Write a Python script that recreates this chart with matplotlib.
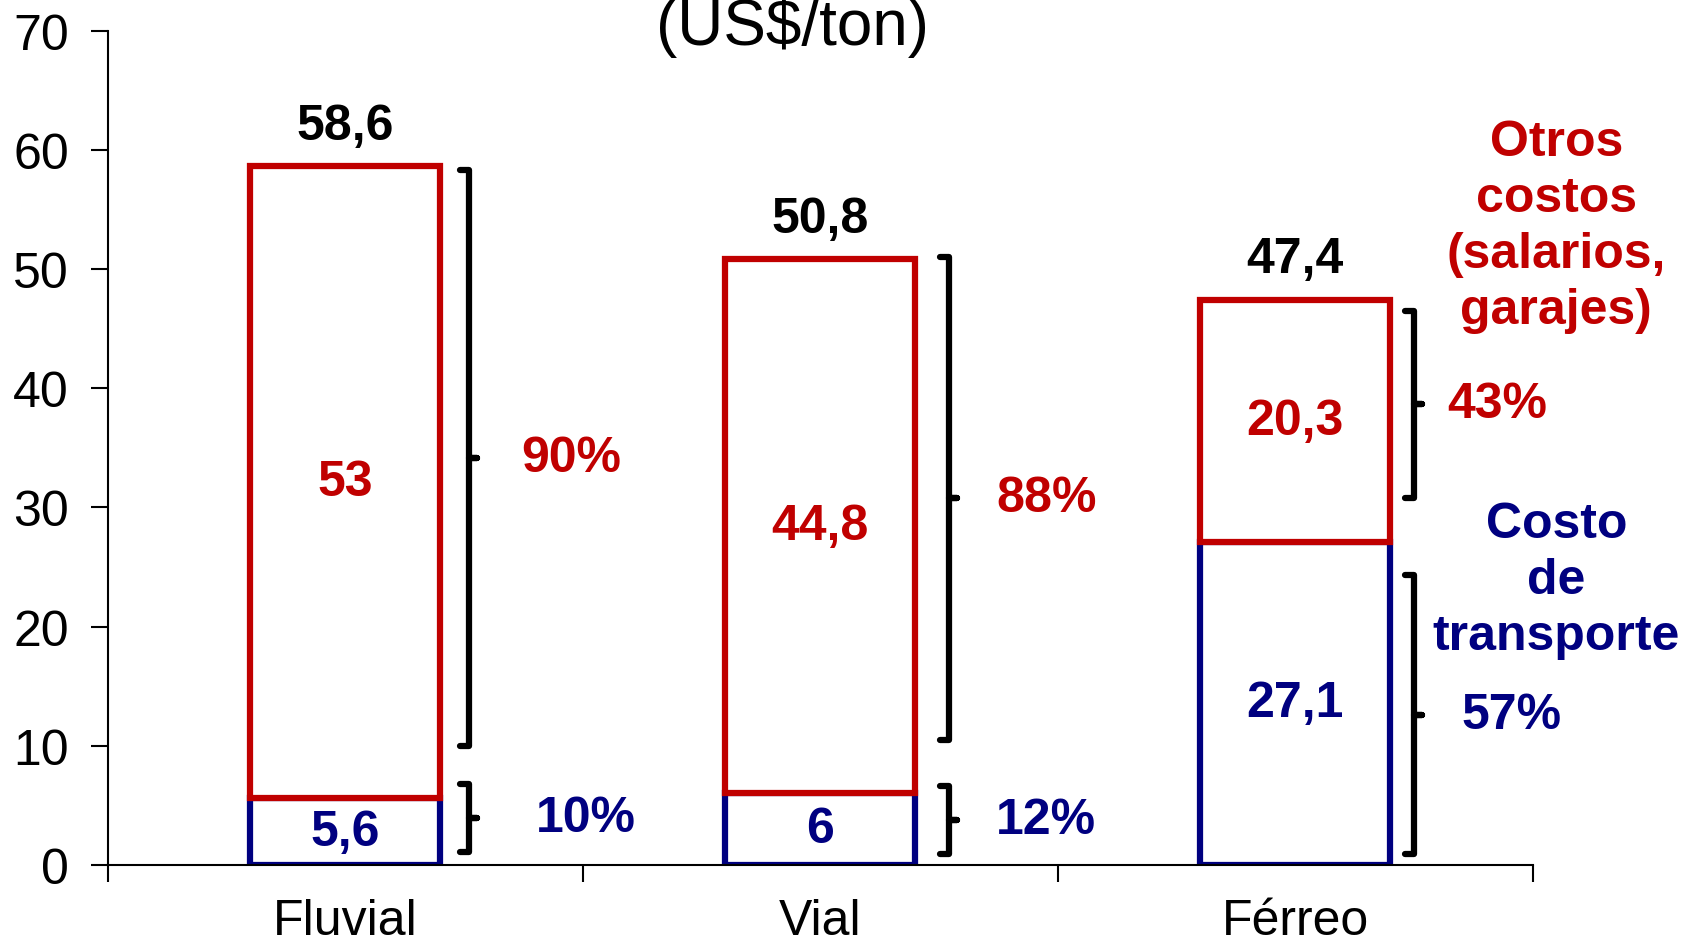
import matplotlib.pyplot as plt
import numpy as np

plt.rcParams['font.family'] = ['Liberation Sans', 'DejaVu Sans']

categories = ['Fluvial', 'Vial', 'Férreo']
transporte = [5.6, 6.0, 27.1]
otros = [53.0, 44.8, 20.3]
totales = [58.6, 50.8, 47.4]
transporte_lbl = ['5,6', '6', '27,1']
otros_lbl = ['53', '44,8', '20,3']
total_lbl = ['58,6', '50,8', '47,4']
pct_otros = ['90%', '88%', '43%']
pct_transporte = ['10%', '12%', '57%']
# brace extents (lower, upper)
brace_otros = [(10.0, 58.3), (10.5, 51.0), (30.8, 46.5)]
brace_transporte = [(1.1, 6.8), (0.9, 6.6), (0.9, 24.3)]

RED = '#C00000'
BLUE = '#000080'
FS = 36

fig = plt.figure(figsize=(16.98, 9.45), dpi=100)
ax = fig.add_axes([0.0636, 0.0836, 0.839, 0.883])

x = np.arange(len(categories))
w = 0.40
ax.bar(x, transporte, w, color='white', edgecolor=BLUE, linewidth=4.5)
ax.bar(x, otros, w, bottom=transporte, color='white', edgecolor=RED, linewidth=4.5)

for i in x:
    ax.text(i, transporte[i] / 2, transporte_lbl[i], ha='center', va='center',
            color=BLUE, fontsize=FS, fontweight='bold')
    ax.text(i, transporte[i] + otros[i] / 2, otros_lbl[i], ha='center', va='center',
            color=RED, fontsize=FS, fontweight='bold')
    ax.text(i, totales[i] + 1.5, total_lbl[i], ha='center', va='bottom',
            color='black', fontsize=FS, fontweight='bold')

# braces
def brace(xc, lo, hi):
    mid = (lo + hi) / 2
    h = 0.018
    xs = [xc - h, xc, xc, xc + h, xc, xc, xc - h]
    ys = [hi, hi, mid, mid, mid, lo, lo]
    ax.plot(xs, ys, color='black', lw=4.5, solid_joinstyle='round',
            solid_capstyle='round', clip_on=False)
    return mid

bx = [0.26, 0.27, 0.25]
gap_otros = [0.11, 0.10, 0.07]
gap_transp = [0.14, 0.10, 0.10]
for i in x:
    m = brace(i + bx[i], *brace_otros[i])
    ax.text(i + bx[i] + gap_otros[i], m, pct_otros[i], ha='left', va='center',
            color=RED, fontsize=FS, fontweight='bold')
    m = brace(i + bx[i], *brace_transporte[i])
    ax.text(i + bx[i] + gap_transp[i], m, pct_transporte[i], ha='left', va='center',
            color=BLUE, fontsize=FS, fontweight='bold')

ax.text(2.55, 53.6, 'Otros\ncostos\n(salarios,\ngarajes)', ha='center', va='center',
        color=RED, fontsize=FS, fontweight='bold', linespacing=1.27)
ax.text(2.55, 23.9, 'Costo\nde\ntransporte', ha='center', va='center',
        color=BLUE, fontsize=FS, fontweight='bold', linespacing=1.27)

ax.set_xlim(-0.5, 2.5)
ax.set_ylim(0, 70)
ax.set_yticks(range(0, 71, 10))
ax.set_xticks([-0.5, 0.5, 1.5, 2.5])
ax.set_xticklabels([])
ax.set_xticks(x, minor=True)
ax.set_xticklabels(categories, minor=True)
ax.tick_params(axis='x', which='minor', length=0, pad=24, labelsize=FS)
ax.tick_params(axis='x', which='major', length=12, width=1.5, direction='out')
ax.tick_params(axis='y', length=12, width=1.5, direction='out', labelsize=FS, pad=16)
for s in ['top', 'right']:
    ax.spines[s].set_visible(False)
for s in ['left', 'bottom']:
    ax.spines[s].set_linewidth(1.5)

fig.text(0.467, 0.952, '(US$/ton)', ha='center', va='baseline', fontsize=46)

fig.savefig('out.png', dpi=100)
